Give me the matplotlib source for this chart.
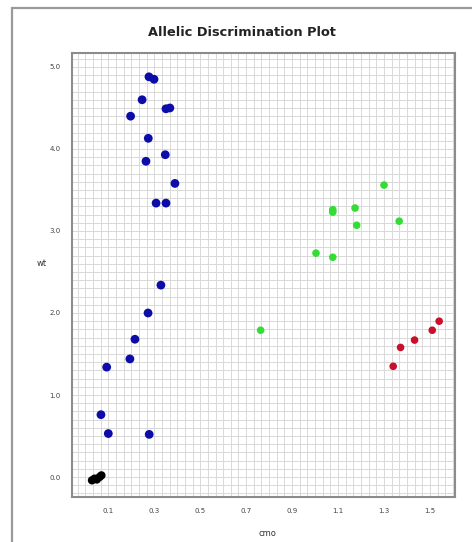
import numpy as np
import matplotlib
matplotlib.use("Agg")
import matplotlib.pyplot as plt
from matplotlib.patches import Rectangle

# Allele X ("cmo") vs allele Y ("wt") fluorescence per sample
blue_x = [0.277, 0.299, 0.247, 0.197, 0.351, 0.368, 0.274, 0.348, 0.264, 0.390,
          0.308, 0.351, 0.329, 0.273, 0.216, 0.194, 0.093, 0.068, 0.100, 0.278]
blue_y = [4.88, 4.85, 4.60, 4.40, 4.49, 4.50, 4.13, 3.93, 3.85, 3.58,
          3.34, 3.34, 2.34, 2.00, 1.68, 1.44, 1.34, 0.76, 0.53, 0.52]

green_x = [1.300, 1.077, 1.077, 1.174, 1.181, 1.366, 1.004, 1.077, 0.763]
green_y = [3.56, 3.26, 3.23, 3.28, 3.07, 3.12, 2.73, 2.68, 1.79]

red_x = [1.540, 1.510, 1.433, 1.372, 1.340]
red_y = [1.90, 1.79, 1.67, 1.58, 1.35]

ntc_x = [0.029, 0.040, 0.050, 0.062, 0.070]
ntc_y = [-0.04, -0.02, -0.03, 0.00, 0.02]

x_ticks = [0.1, 0.3, 0.5, 0.7, 0.9, 1.1, 1.3, 1.5]
y_ticks = [0.0, 1.0, 2.0, 3.0, 4.0, 5.0]

W, H = 472, 542
fig = plt.figure(figsize=(W / 100, H / 100), dpi=100)
fig.patch.set_facecolor("white")

# outer panel frame
fig.patches.append(Rectangle((12 / W, -0.05), 1.2, 1 - 8 / H + 0.05,
                             transform=fig.transFigure, fill=False,
                             edgecolor="#9a9a9a", linewidth=1.6))

ax = fig.add_axes([72 / W, 1 - 496.7 / H, (455 - 72) / W, (496.7 - 52.7) / H])
ax.set_xlim(-0.058, 1.609)
ax.set_ylim(-0.24, 5.174)

# fine grid: 0.1 steps vertically, sixths of a tick step horizontally
step_x = 0.2 / 6
for k in range(-5, 46):
    ax.axvline(0.1 + k * step_x, color="#d9d9d9", linewidth=0.7, zorder=0)
for k in range(-2, 52):
    ax.axhline(k * 0.1, color="#d9d9d9", linewidth=0.7, zorder=0)

ax.scatter(blue_x, blue_y, s=40, color="#0c0ca8", edgecolors="none", zorder=3)
ax.scatter(green_x, green_y, s=30, color="#33dd33", edgecolors="none", zorder=3)
ax.scatter(red_x, red_y, s=30, color="#c8102a", edgecolors="none", zorder=3)
ax.scatter(ntc_x, ntc_y, s=36, color="black", edgecolors="none", zorder=3)

ax.set_xticks(x_ticks)
ax.set_xticklabels([f"{v:.1f}" for v in x_ticks])
ax.set_yticks(y_ticks)
ax.set_yticklabels([f"{v:.1f}" for v in y_ticks])
ax.tick_params(length=0, labelsize=5, labelcolor="#444444", pad=8)

for sp in ax.spines.values():
    sp.set_color("#8c8c8c")
    sp.set_linewidth(1.5)

fig.text(0.5 + 6 / W, 1 - 33 / H, "Allelic Discrimination Plot", ha="center", va="center",
         fontsize=9.3, fontweight="bold", color="#222222")
fig.text(267 / W, 1 - 533 / H, "cmo", ha="center", va="center", fontsize=6, color="#333333")
fig.text(42 / W, 1 - 263 / H, "wt", ha="center", va="center", fontsize=6, color="#333333")

fig.savefig("out.png", dpi=100)
